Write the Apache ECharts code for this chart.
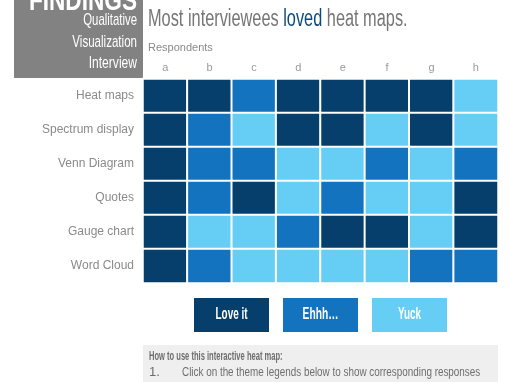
<!DOCTYPE html>
<html><head><meta charset="utf-8">
<script src="https://cdn.jsdelivr.net/npm/echarts@6/dist/echarts.min.js"></script>
<style>html,body{margin:0;padding:0;background:#fff}#c{width:510px;height:382px}</style>
</head><body><div id="c"></div>
<script>
const respondents = ['a','b','c','d','e','f','g','h'];
const themes = ['Heat maps','Spectrum display','Venn Diagram','Quotes','Gauge chart','Word Cloud'];
// 3 = Love it, 2 = Ehhh..., 1 = Yuck
const heatMaps        = [3,3,2,3,3,3,3,1];
const spectrumDisplay = [3,2,1,3,3,1,3,1];
const vennDiagram     = [3,2,2,1,1,2,1,2];
const quotes          = [3,2,3,1,2,1,1,3];
const gaugeChart      = [3,1,1,2,3,3,1,3];
const wordCloud       = [3,2,1,1,1,1,2,2];
const responseLabels = ['Love it','Ehhh…','Yuck'];

const rows = [heatMaps, spectrumDisplay, vennDiagram, quotes, gaugeChart, wordCloud];
const data = [];
rows.forEach((r, yi) => r.forEach((v, xi) => data.push([xi, yi, v])));

const F = '"Liberation Sans",Arial,sans-serif';
const cDark = '#063f6b', cMid = '#1473be', cLight = '#66cef5';

const chart = echarts.init(document.getElementById('c'));
chart.setOption({
  animation: false,
  grid: {left: 143, right: 12, top: 79, bottom: 99},
  xAxis: {type: 'category', data: respondents, position: 'top',
    axisLine: {show: false}, axisTick: {show: false}, splitLine: {show: false},
    axisLabel: {color: '#9a9a9a', fontSize: 11, fontFamily: F, margin: 6}},
  yAxis: {type: 'category', data: themes, inverse: true,
    axisLine: {show: false}, axisTick: {show: false}, splitLine: {show: false},
    axisLabel: {color: '#8a8a8a', fontSize: 12, fontFamily: F, margin: 9}},
  visualMap: {type: 'piecewise', show: false, dimension: 2,
    pieces: [{value: 3, color: cDark}, {value: 2, color: cMid}, {value: 1, color: cLight}]},
  series: [{type: 'heatmap', data: data,
    itemStyle: {borderColor: '#ffffff', borderWidth: 2}}],
  graphic: [
    {type: 'rect', shape: {x: 14, y: 0, width: 129, height: 78}, style: {fill: '#828282'}},
    {type: 'text', x: 137, y: 1.5, scaleX: 0.78, style: {text: 'FINDINGS', fill: '#fff', font: 'bold 29px ' + F, textAlign: 'right', textVerticalAlign: 'middle'}},
    {type: 'text', x: 137, y: 20.5, scaleX: 0.67, style: {text: 'Qualitative', fill: '#fff', font: '17px ' + F, textAlign: 'right', textVerticalAlign: 'middle'}},
    {type: 'text', x: 137, y: 42, scaleX: 0.68, style: {text: 'Visualization', fill: '#fff', font: '17px ' + F, textAlign: 'right', textVerticalAlign: 'middle'}},
    {type: 'text', x: 137, y: 63.5, scaleX: 0.71, style: {text: 'Interview', fill: '#fff', font: '17px ' + F, textAlign: 'right', textVerticalAlign: 'middle'}},
    {type: 'text', x: 148, y: 20, scaleX: 0.71, style: {
      text: '{g|Most interviewees }{b|loved}{g| heat maps.}', textVerticalAlign: 'middle',
      rich: {g: {fill: '#767676', font: '23px ' + F}, b: {fill: '#0d4a7c', font: '23px ' + F}}}},
    {type: 'text', x: 148, y: 48, style: {text: 'Respondents', fill: '#8a8a8a', font: '11px ' + F, textVerticalAlign: 'middle'}},
    {type: 'rect', shape: {x: 194, y: 298, width: 75, height: 34}, style: {fill: cDark}},
    {type: 'rect', shape: {x: 283, y: 298, width: 75, height: 34}, style: {fill: cMid}},
    {type: 'rect', shape: {x: 372, y: 298, width: 75, height: 34}, style: {fill: cLight}},
    {type: 'text', x: 231.5, y: 315, scaleX: 0.62, style: {text: responseLabels[0], fill: '#fff', font: 'bold 16px ' + F, textAlign: 'center', textVerticalAlign: 'middle'}},
    {type: 'text', x: 320.5, y: 315, scaleX: 0.64, style: {text: responseLabels[1], fill: '#fff', font: 'bold 16px ' + F, textAlign: 'center', textVerticalAlign: 'middle'}},
    {type: 'text', x: 409.5, y: 315, scaleX: 0.62, style: {text: responseLabels[2], fill: '#fff', font: 'bold 16px ' + F, textAlign: 'center', textVerticalAlign: 'middle'}},
    {type: 'rect', shape: {x: 143, y: 345, width: 355, height: 40}, style: {fill: '#efefef'}},
    {type: 'text', x: 149, y: 357, scaleX: 0.63, style: {text: 'How to use this interactive heat map:', fill: '#6e6e6e', font: 'bold 12px ' + F, textVerticalAlign: 'middle'}},
    {type: 'text', x: 149, y: 372, style: {text: '1.', fill: '#6e6e6e', font: '13px ' + F, textVerticalAlign: 'middle'}},
    {type: 'text', x: 182, y: 372, scaleX: 0.76, style: {text: 'Click on the theme legends below to show corresponding responses', fill: '#6e6e6e', font: '13px ' + F, textVerticalAlign: 'middle'}}
  ]
});
</script></body></html>
